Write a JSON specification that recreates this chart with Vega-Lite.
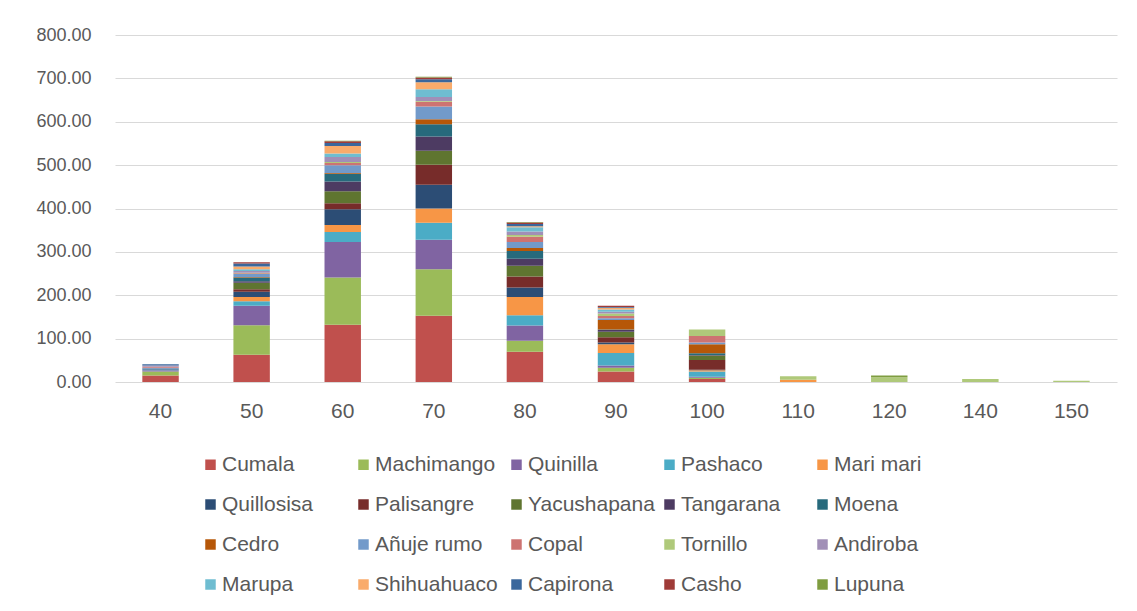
{
  "$schema": "https://vega.github.io/schema/vega-lite/v6.json",
  "autosize": {"type": "none"},
  "width": 1002,
  "height": 347,
  "padding": {"left": 115, "top": 35, "right": 20, "bottom": 229},
  "background": "white",
  "data": {
    "values": [
      {"d": 40, "s": "Cumala", "v": 15}, {"d": 40, "s": "Machimango", "v": 9}, {"d": 40, "s": "Quinilla", "v": 3},
      {"d": 40, "s": "Pashaco", "v": 2}, {"d": 40, "s": "Quillosisa", "v": 2}, {"d": 40, "s": "Añuje rumo", "v": 2},
      {"d": 40, "s": "Copal", "v": 2}, {"d": 40, "s": "Andiroba", "v": 3}, {"d": 40, "s": "Capirona", "v": 3},

      {"d": 50, "s": "Cumala", "v": 63}, {"d": 50, "s": "Machimango", "v": 68}, {"d": 50, "s": "Quinilla", "v": 45},
      {"d": 50, "s": "Pashaco", "v": 10}, {"d": 50, "s": "Mari mari", "v": 10}, {"d": 50, "s": "Quillosisa", "v": 12},
      {"d": 50, "s": "Palisangre", "v": 6}, {"d": 50, "s": "Yacushapana", "v": 15}, {"d": 50, "s": "Tangarana", "v": 3},
      {"d": 50, "s": "Moena", "v": 9}, {"d": 50, "s": "Cedro", "v": 1}, {"d": 50, "s": "Añuje rumo", "v": 7},
      {"d": 50, "s": "Copal", "v": 2}, {"d": 50, "s": "Tornillo", "v": 1}, {"d": 50, "s": "Andiroba", "v": 4},
      {"d": 50, "s": "Marupa", "v": 4}, {"d": 50, "s": "Shihuahuaco", "v": 6}, {"d": 50, "s": "Capirona", "v": 7},
      {"d": 50, "s": "Casho", "v": 3},

      {"d": 60, "s": "Cumala", "v": 132}, {"d": 60, "s": "Machimango", "v": 109}, {"d": 60, "s": "Quinilla", "v": 82},
      {"d": 60, "s": "Pashaco", "v": 23}, {"d": 60, "s": "Mari mari", "v": 16}, {"d": 60, "s": "Quillosisa", "v": 36},
      {"d": 60, "s": "Palisangre", "v": 14}, {"d": 60, "s": "Yacushapana", "v": 28}, {"d": 60, "s": "Tangarana", "v": 22},
      {"d": 60, "s": "Moena", "v": 18}, {"d": 60, "s": "Cedro", "v": 2}, {"d": 60, "s": "Añuje rumo", "v": 18},
      {"d": 60, "s": "Copal", "v": 5}, {"d": 60, "s": "Tornillo", "v": 2}, {"d": 60, "s": "Andiroba", "v": 12},
      {"d": 60, "s": "Marupa", "v": 8}, {"d": 60, "s": "Shihuahuaco", "v": 17}, {"d": 60, "s": "Capirona", "v": 7},
      {"d": 60, "s": "Casho", "v": 4}, {"d": 60, "s": "Lupuna", "v": 1},

      {"d": 70, "s": "Cumala", "v": 153}, {"d": 70, "s": "Machimango", "v": 107}, {"d": 70, "s": "Quinilla", "v": 68},
      {"d": 70, "s": "Pashaco", "v": 39}, {"d": 70, "s": "Mari mari", "v": 33}, {"d": 70, "s": "Quillosisa", "v": 55},
      {"d": 70, "s": "Palisangre", "v": 46}, {"d": 70, "s": "Yacushapana", "v": 32}, {"d": 70, "s": "Tangarana", "v": 33},
      {"d": 70, "s": "Moena", "v": 28}, {"d": 70, "s": "Cedro", "v": 12}, {"d": 70, "s": "Añuje rumo", "v": 29},
      {"d": 70, "s": "Copal", "v": 11}, {"d": 70, "s": "Tornillo", "v": 2}, {"d": 70, "s": "Andiroba", "v": 9},
      {"d": 70, "s": "Marupa", "v": 18}, {"d": 70, "s": "Shihuahuaco", "v": 16}, {"d": 70, "s": "Capirona", "v": 7},
      {"d": 70, "s": "Casho", "v": 4}, {"d": 70, "s": "Lupuna", "v": 2},

      {"d": 80, "s": "Cumala", "v": 70}, {"d": 80, "s": "Machimango", "v": 25}, {"d": 80, "s": "Quinilla", "v": 35},
      {"d": 80, "s": "Pashaco", "v": 24}, {"d": 80, "s": "Mari mari", "v": 42}, {"d": 80, "s": "Quillosisa", "v": 22},
      {"d": 80, "s": "Palisangre", "v": 25}, {"d": 80, "s": "Yacushapana", "v": 25}, {"d": 80, "s": "Tangarana", "v": 16},
      {"d": 80, "s": "Moena", "v": 18}, {"d": 80, "s": "Cedro", "v": 7}, {"d": 80, "s": "Añuje rumo", "v": 14},
      {"d": 80, "s": "Copal", "v": 12}, {"d": 80, "s": "Tornillo", "v": 4}, {"d": 80, "s": "Andiroba", "v": 8},
      {"d": 80, "s": "Marupa", "v": 10}, {"d": 80, "s": "Shihuahuaco", "v": 2}, {"d": 80, "s": "Capirona", "v": 5},
      {"d": 80, "s": "Casho", "v": 4}, {"d": 80, "s": "Lupuna", "v": 1},

      {"d": 90, "s": "Cumala", "v": 24}, {"d": 90, "s": "Machimango", "v": 9}, {"d": 90, "s": "Quinilla", "v": 5},
      {"d": 90, "s": "Pashaco", "v": 29}, {"d": 90, "s": "Mari mari", "v": 20}, {"d": 90, "s": "Quillosisa", "v": 4},
      {"d": 90, "s": "Palisangre", "v": 12}, {"d": 90, "s": "Yacushapana", "v": 13}, {"d": 90, "s": "Tangarana", "v": 4},
      {"d": 90, "s": "Moena", "v": 1}, {"d": 90, "s": "Cedro", "v": 22}, {"d": 90, "s": "Añuje rumo", "v": 4},
      {"d": 90, "s": "Copal", "v": 5}, {"d": 90, "s": "Tornillo", "v": 6}, {"d": 90, "s": "Andiroba", "v": 4},
      {"d": 90, "s": "Marupa", "v": 5}, {"d": 90, "s": "Shihuahuaco", "v": 4}, {"d": 90, "s": "Capirona", "v": 2},
      {"d": 90, "s": "Casho", "v": 3},

      {"d": 100, "s": "Cumala", "v": 7}, {"d": 100, "s": "Machimango", "v": 3}, {"d": 100, "s": "Quinilla", "v": 2},
      {"d": 100, "s": "Pashaco", "v": 12}, {"d": 100, "s": "Mari mari", "v": 3}, {"d": 100, "s": "Quillosisa", "v": 1},
      {"d": 100, "s": "Palisangre", "v": 23}, {"d": 100, "s": "Yacushapana", "v": 10}, {"d": 100, "s": "Tangarana", "v": 1},
      {"d": 100, "s": "Moena", "v": 4}, {"d": 100, "s": "Cedro", "v": 21}, {"d": 100, "s": "Añuje rumo", "v": 4},
      {"d": 100, "s": "Copal", "v": 15}, {"d": 100, "s": "Tornillo", "v": 15},

      {"d": 110, "s": "Mari mari", "v": 5}, {"d": 110, "s": "Tornillo", "v": 8},
      {"d": 120, "s": "Tornillo", "v": 11}, {"d": 120, "s": "Lupuna", "v": 4},
      {"d": 140, "s": "Tornillo", "v": 7},
      {"d": 150, "s": "Tornillo", "v": 3}
    ]
  },
  "transform": [
    {"calculate": "indexof(['Cumala','Machimango','Quinilla','Pashaco','Mari mari','Quillosisa','Palisangre','Yacushapana','Tangarana','Moena','Cedro','Añuje rumo','Copal','Tornillo','Andiroba','Marupa','Shihuahuaco','Capirona','Casho','Lupuna'], datum.s)", "as": "rank"}
  ],
  "mark": {"type": "bar"},
  "encoding": {
    "x": {
      "field": "d",
      "type": "ordinal",
      "scale": {"paddingInner": 0.6, "paddingOuter": 0.3},
      "axis": {
        "title": null,
        "labelAngle": 0,
        "ticks": false,
        "domain": false,
        "labelPadding": 18,
        "labelFontSize": 21,
        "labelColor": "#595959",
        "labelFont": "Liberation Sans"
      }
    },
    "y": {
      "field": "v",
      "type": "quantitative",
      "stack": "zero",
      "scale": {"domain": [0, 800], "nice": false},
      "axis": {
        "title": null,
        "values": [0, 100, 200, 300, 400, 500, 600, 700, 800],
        "format": ".2f",
        "ticks": false,
        "domain": false,
        "grid": true,
        "gridColor": "#D9D9D9",
        "gridWidth": 1.2,
        "labelPadding": 24,
        "labelFontSize": 18,
        "labelColor": "#595959",
        "labelFont": "Liberation Sans"
      }
    },
    "order": {"field": "rank", "type": "quantitative", "sort": "ascending"},
    "color": {
      "field": "s",
      "type": "nominal",
      "scale": {
        "domain": ["Cumala", "Machimango", "Quinilla", "Pashaco", "Mari mari", "Quillosisa", "Palisangre", "Yacushapana", "Tangarana", "Moena", "Cedro", "Añuje rumo", "Copal", "Tornillo", "Andiroba", "Marupa", "Shihuahuaco", "Capirona", "Casho", "Lupuna"],
        "range": ["#C0504D", "#9BBB59", "#8064A2", "#4BACC6", "#F79646", "#2C4D75", "#772C2A", "#5F7530", "#4D3B62", "#276A7C", "#B65708", "#729ACA", "#CD7371", "#AFC97A", "#A18FB7", "#6FBDD1", "#F9AB6B", "#3A679C", "#9F3B38", "#7F9D40"]
      },
      "legend": {
        "title": null,
        "orient": "none",
        "legendX": 85,
        "legendY": 419,
        "direction": "horizontal",
        "columns": 5,
        "gridAlign": "all",
        "columnPadding": 4,
        "rowPadding": 18,
        "symbolType": "square",
        "symbolSize": 110,
        "symbolStrokeWidth": 0,
        "labelOffset": 1,
        "labelFontSize": 21,
        "labelColor": "#595959",
        "labelFont": "Liberation Sans",
        "labelLimit": 200
      }
    }
  },
  "config": {
    "view": {"stroke": null},
    "axis": {"gridColor": "#D9D9D9"}
  }
}
